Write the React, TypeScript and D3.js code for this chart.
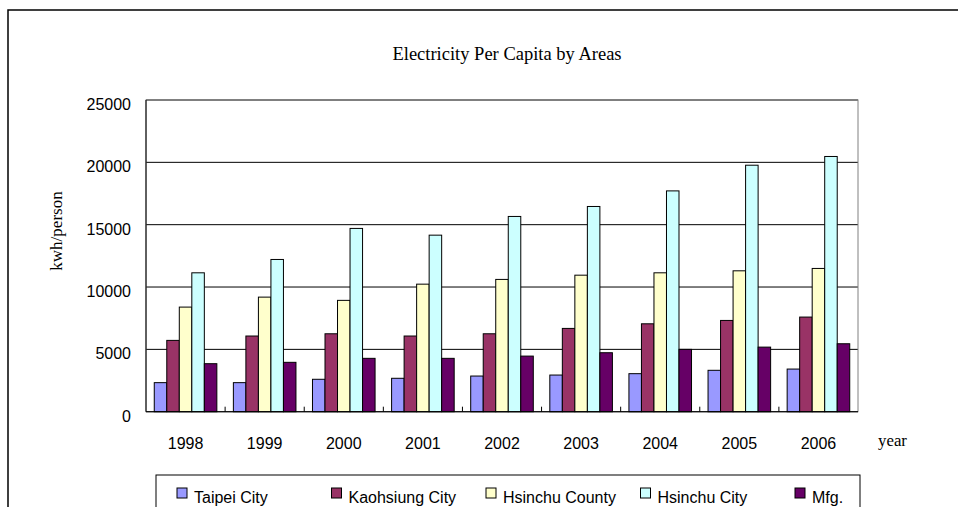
import React from "react";
import * as d3 from "d3";

const years = ["1998", "1999", "2000", "2001", "2002", "2003", "2004", "2005", "2006"];
const seriesNames = ["Taipei City", "Kaohsiung City", "Hsinchu County", "Hsinchu City", "Mfg."];
const taipei = [2330, 2330, 2600, 2680, 2860, 2940, 3050, 3320, 3420];
const kaohsiung = [5720, 6070, 6250, 6070, 6250, 6680, 7050, 7320, 7590];
const hsinchuCounty = [8390, 9190, 8930, 10230, 10610, 10950, 11140, 11300, 11490];
const hsinchuCity = [11140, 12210, 14700, 14160, 15660, 16460, 17710, 19770, 20470];
const mfg = [3850, 3960, 4280, 4280, 4460, 4730, 5000, 5180, 5450];
const yTicks = [0, 5000, 10000, 15000, 20000, 25000];
const colors = ["#9999FF", "#993366", "#FFFFCC", "#CCFFFF", "#660066"];

const seriesValues = [taipei, kaohsiung, hsinchuCounty, hsinchuCity, mfg];

export default function App() {
  const W = 958, H = 507;
  const left = 146, right = 858, top = 100, bottom = 411.7;
  const x0 = d3.scaleBand().domain(years).range([left, right]).padding(0);
  const x1 = d3.scaleBand().domain(seriesNames).range([0, x0.bandwidth()]).paddingInner(0).paddingOuter(0.66);
  const y = d3.scaleLinear().domain([0, 25000]).range([bottom, top]);
  const sans = "'Liberation Sans', Arial, sans-serif";
  const serif = "'Liberation Serif', 'Times New Roman', serif";
  const legendX = d3.scaleLinear().domain([0, 4]).range([177, 795]);

  return (
    <svg width={W} height={H} style={{ position: "absolute", left: 0, top: 0, background: "#fff" }}>
      <rect x={0} y={0} width={W} height={H} fill="#fff" />
      {/* outer chart border */}
      <rect x={8} y={10} width={W + 10} height={H + 10} fill="none" stroke="#000" strokeWidth={1.5} />
      {/* title */}
      <text x={507} y={60} textAnchor="middle" fontFamily={serif} fontSize={18.5} fill="#000">
        Electricity Per Capita by Areas
      </text>
      {/* gridlines */}
      {yTicks.map((t) => (
        <line key={t} x1={left} x2={right} y1={y(t)} y2={y(t)} stroke="#000" strokeWidth={1} />
      ))}
      {/* plot border */}
      <rect x={left} y={top} width={right - left} height={bottom - top} fill="none" stroke="#808080" strokeWidth={1} />
      {/* bars */}
      {years.map((yr, i) => (
        <g key={yr} transform={`translate(${x0(yr)},0)`}>
          {seriesNames.map((s, j) => (
            <rect
              key={s}
              x={x1(s)}
              y={y(seriesValues[j][i])}
              width={x1.bandwidth()}
              height={bottom - y(seriesValues[j][i])}
              fill={colors[j]}
              stroke="#000"
              strokeWidth={1}
            />
          ))}
        </g>
      ))}
      {/* axes */}
      <line x1={left} x2={left} y1={top} y2={bottom} stroke="#000" strokeWidth={1} />
      <line x1={left} x2={right} y1={bottom} y2={bottom} stroke="#000" strokeWidth={1} />
      {years.slice(1).map((yr) => (
        <line key={yr} x1={x0(yr)} x2={x0(yr)} y1={bottom} y2={bottom - 5} stroke="#000" strokeWidth={1} />
      ))}
      {/* y tick labels */}
      {yTicks.map((t) => (
        <text key={t} x={131} y={y(t) + 10} textAnchor="end" fontFamily={sans} fontSize={16} fill="#000">
          {t}
        </text>
      ))}
      {/* x tick labels */}
      {years.map((yr) => (
        <text key={yr} x={(x0(yr) as number) + x0.bandwidth() / 2} y={449} textAnchor="middle" fontFamily={sans} fontSize={16} fill="#000">
          {yr}
        </text>
      ))}
      {/* axis titles */}
      <text x={892.5} y={446} textAnchor="middle" fontFamily={serif} fontSize={16.8} fill="#000">
        year
      </text>
      <text
        transform={`translate(62,231) rotate(-90)`}
        textAnchor="middle"
        fontFamily={serif}
        fontSize={17}
        fill="#000"
      >
        kwh/person
      </text>
      {/* legend */}
      <rect x={156} y={475} width={704} height={60} fill="#fff" stroke="#000" strokeWidth={1} />
      {seriesNames.map((s, j) => (
        <g key={s}>
          <rect x={legendX(j)} y={488} width={10} height={10} fill={colors[j]} stroke="#000" strokeWidth={1} />
          <text x={legendX(j) + 17} y={503} fontFamily={sans} fontSize={16} fill="#000">
            {s}
          </text>
        </g>
      ))}
    </svg>
  );
}
